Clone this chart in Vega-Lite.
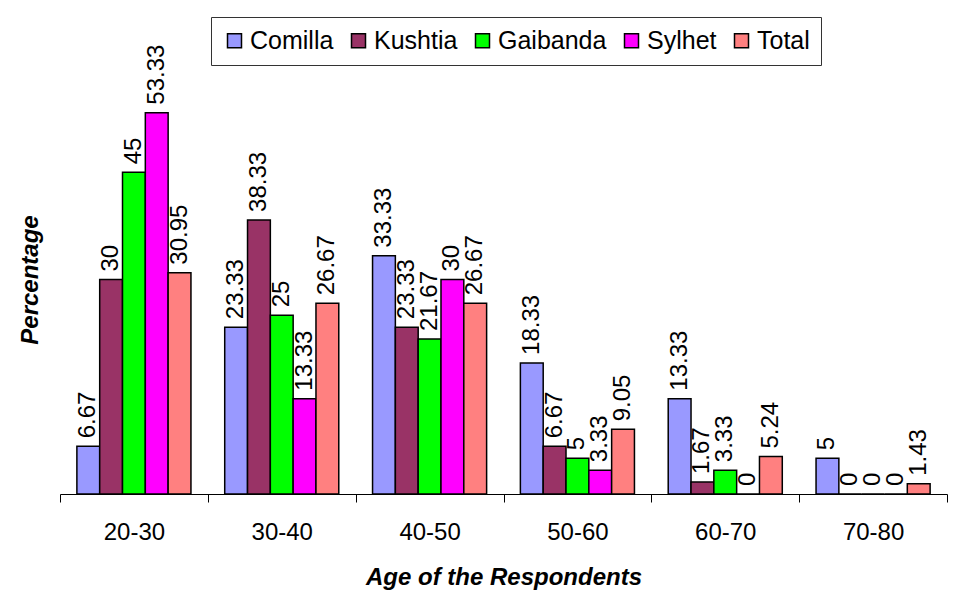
{
  "$schema": "https://vega.github.io/schema/vega-lite/v6.json",
  "width": 887,
  "height": 429,
  "autosize": "none",
  "padding": {"left": 60, "top": 65, "right": 33, "bottom": 98},
  "background": "white",
  "config": {
    "view": {"stroke": null},
    "font": "Liberation Sans"
  },
  "data": {
    "values": [
      {"age": "20-30", "district": "Comilla", "pct": 6.67},
      {"age": "20-30", "district": "Kushtia", "pct": 30},
      {"age": "20-30", "district": "Gaibanda", "pct": 45},
      {"age": "20-30", "district": "Sylhet", "pct": 53.33},
      {"age": "20-30", "district": "Total", "pct": 30.95},
      {"age": "30-40", "district": "Comilla", "pct": 23.33},
      {"age": "30-40", "district": "Kushtia", "pct": 38.33},
      {"age": "30-40", "district": "Gaibanda", "pct": 25},
      {"age": "30-40", "district": "Sylhet", "pct": 13.33},
      {"age": "30-40", "district": "Total", "pct": 26.67},
      {"age": "40-50", "district": "Comilla", "pct": 33.33},
      {"age": "40-50", "district": "Kushtia", "pct": 23.33},
      {"age": "40-50", "district": "Gaibanda", "pct": 21.67},
      {"age": "40-50", "district": "Sylhet", "pct": 30},
      {"age": "40-50", "district": "Total", "pct": 26.67},
      {"age": "50-60", "district": "Comilla", "pct": 18.33},
      {"age": "50-60", "district": "Kushtia", "pct": 6.67},
      {"age": "50-60", "district": "Gaibanda", "pct": 5},
      {"age": "50-60", "district": "Sylhet", "pct": 3.33},
      {"age": "50-60", "district": "Total", "pct": 9.05},
      {"age": "60-70", "district": "Comilla", "pct": 13.33},
      {"age": "60-70", "district": "Kushtia", "pct": 1.67},
      {"age": "60-70", "district": "Gaibanda", "pct": 3.33},
      {"age": "60-70", "district": "Sylhet", "pct": 0},
      {"age": "60-70", "district": "Total", "pct": 5.24},
      {"age": "70-80", "district": "Comilla", "pct": 5},
      {"age": "70-80", "district": "Kushtia", "pct": 0},
      {"age": "70-80", "district": "Gaibanda", "pct": 0},
      {"age": "70-80", "district": "Sylhet", "pct": 0},
      {"age": "70-80", "district": "Total", "pct": 1.43}
    ]
  },
  "encoding": {
    "x": {
      "field": "age",
      "type": "nominal",
      "sort": ["20-30", "30-40", "40-50", "50-60", "60-70", "70-80"],
      "scale": {"paddingInner": 0, "paddingOuter": 0},
      "axis": {
        "title": "Age of the Respondents",
        "titleFont": "Liberation Sans",
        "titleFontSize": 24,
        "titleFontWeight": "bold",
        "titleFontStyle": "italic",
        "titleColor": "black",
        "titlePadding": 21,
        "labelAngle": 0,
        "labelFont": "Liberation Sans",
        "labelFontSize": 24,
        "labelColor": "black",
        "labelPadding": 18,
        "tickBand": "extent",
        "tickSize": 8,
        "tickColor": "black",
        "domainColor": "black",
        "domainWidth": 1.2,
        "grid": false
      }
    },
    "xOffset": {
      "field": "district",
      "sort": ["Comilla", "Kushtia", "Gaibanda", "Sylhet", "Total"],
      "scale": {"paddingInner": 0, "paddingOuter": 0.74}
    },
    "y": {
      "field": "pct",
      "type": "quantitative",
      "scale": {"domain": [0, 60], "nice": false},
      "axis": {
        "title": "Percentage",
        "titleFont": "Liberation Sans",
        "titleFontSize": 24,
        "titleFontWeight": "bold",
        "titleFontStyle": "italic",
        "titleColor": "black",
        "titlePadding": 18,
        "labels": false,
        "ticks": false,
        "domain": false,
        "grid": false
      }
    }
  },
  "layer": [
    {
      "mark": {"type": "bar", "stroke": "black", "strokeWidth": 1.5},
      "encoding": {
        "color": {
          "field": "district",
          "type": "nominal",
          "sort": ["Comilla", "Kushtia", "Gaibanda", "Sylhet", "Total"],
          "scale": {
            "domain": ["Comilla", "Kushtia", "Gaibanda", "Sylhet", "Total"],
            "range": ["#9999FF", "#993366", "#00FF00", "#FF00FF", "#FF8080"]
          },
          "legend": {
            "title": null,
            "orient": "none",
            "legendX": 151,
            "legendY": -48,
            "direction": "horizontal",
            "padding": 11,
            "strokeColor": "#333333",
            "fillColor": "white",
            "symbolType": "square",
            "symbolSize": 196,
            "symbolStrokeColor": "black",
            "symbolStrokeWidth": 1.5,
            "symbolOpacity": 1,
            "labelFont": "Liberation Sans",
            "labelFontSize": 25,
            "labelColor": "black",
            "labelOffset": 3,
            "labelLimit": 300,
            "columnPadding": 12
          }
        }
      }
    },
    {
      "mark": {
        "type": "text",
        "angle": 270,
        "align": "left",
        "baseline": "middle",
        "dx": 8,
        "font": "Liberation Sans",
        "fontSize": 24,
        "color": "black"
      },
      "encoding": {
        "text": {"field": "pct", "type": "quantitative"}
      }
    }
  ]
}
